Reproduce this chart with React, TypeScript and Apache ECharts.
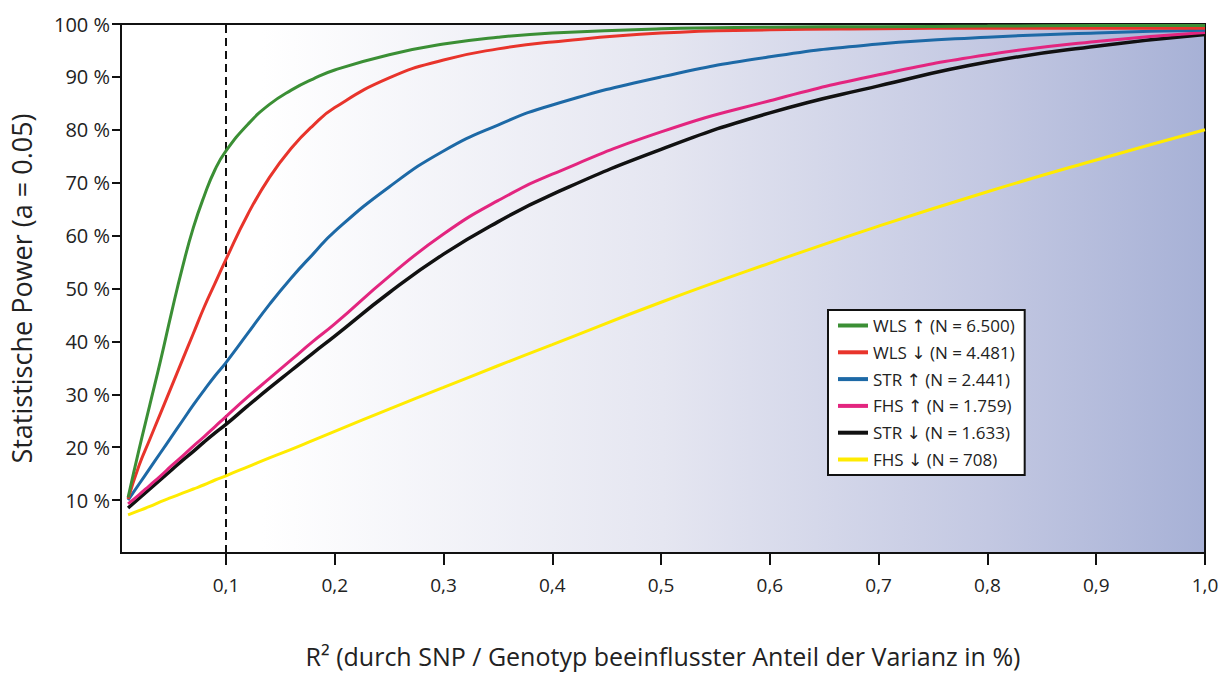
import React, { useEffect, useRef } from "react";
import * as echarts from "echarts";

const xValues = [0.01, 0.02, 0.03, 0.04, 0.05, 0.06, 0.07, 0.08, 0.09, 0.1, 0.12, 0.14, 0.16, 0.18, 0.2, 0.25, 0.3, 0.35, 0.4, 0.5, 0.6, 0.7, 0.8, 0.9, 1.0];
const wlsUp = [10.5, 19.5, 28, 36.5, 45.5, 54, 61.5, 67.5, 72.5, 76, 81, 84.8, 87.5, 89.6, 91.3, 94.2, 96.2, 97.5, 98.3, 99.1, 99.4, 99.5, 99.6, 99.7, 99.7];
const wlsDown = [10.2, 16.5, 21.5, 26.5, 31.5, 36.5, 41.5, 46.5, 51, 55.5, 64, 71, 76.5, 80.8, 84.2, 89.8, 93.2, 95.3, 96.6, 98.3, 98.9, 99.1, 99.2, 99.2, 99.2];
const strUp = [10, 13, 16, 19, 22, 25, 28, 30.8, 33.5, 36, 41.5, 47, 52, 56.5, 60.8, 69.2, 76, 80.9, 84.7, 90, 93.8, 96.2, 97.5, 98.3, 98.8];
const fhsUp = [9.3, 11, 12.8, 14.6, 16.5, 18.3, 20.2, 22, 23.9, 25.8, 29.5, 33, 36.5, 40, 43.3, 52.3, 60.3, 66.6, 71.6, 79.6, 85.5, 90.4, 94.2, 96.7, 98.4];
const strDown = [8.5, 10.3, 12.1, 13.9, 15.7, 17.5, 19.2, 21, 22.7, 24.3, 27.8, 31.2, 34.5, 37.8, 41, 49.2, 56.5, 62.6, 67.8, 76.3, 83.2, 88.3, 92.8, 95.8, 98];
const fhsDown = [7.2, 8, 8.8, 9.7, 10.5, 11.3, 12.1, 12.9, 13.8, 14.6, 16.3, 18, 19.6, 21.3, 23, 27.2, 31.3, 35.4, 39.4, 47.4, 54.8, 61.8, 68.3, 74.3, 80];

const seriesNames = [
  "WLS ↑ (N = 6.500)",
  "WLS ↓ (N = 4.481)",
  "STR ↑ (N = 2.441)",
  "FHS ↑ (N = 1.759)",
  "STR ↓ (N = 1.633)",
  "FHS ↓ (N = 708)",
];
const seriesColors = ["#3b8f35", "#e8342b", "#1d69a6", "#e3257f", "#111111", "#ffeb00"];
const seriesValues = [wlsUp, wlsDown, strUp, fhsUp, strDown, fhsDown];

const xTicks = [0.1, 0.2, 0.3, 0.4, 0.5, 0.6, 0.7, 0.8, 0.9, 1.0];
const yTicks = [10, 20, 30, 40, 50, 60, 70, 80, 90, 100];
const markerX = 0.1;

const FONT = "'Open Sans', 'DejaVu Sans', sans-serif";

export default function App() {
  const ref = useRef<HTMLDivElement>(null);
  useEffect(() => {
    if (!ref.current) return;
    const chart = echarts.init(ref.current, null, { renderer: "svg" });
    const series: any[] = seriesValues.map((vals, i) => ({
      name: seriesNames[i],
      type: "line",
      smooth: 0.5,
      showSymbol: false,
      symbol: "none",
      z: 10 - i,
      data: xValues.map((x, j) => [x, vals[j]]),
      lineStyle: { color: seriesColors[i], width: i === 4 ? 3.5 : 3 },
      itemStyle: { color: seriesColors[i] },
    }));
    series[0].markLine = {
      silent: true,
      symbol: "none",
      label: { show: false },
      lineStyle: { color: "#111", type: [8, 5], width: 2 },
      data: [{ xAxis: markerX }],
      z: 1,
    };
    chart.setOption({
      animation: false,
      textStyle: { fontFamily: FONT },
      grid: {
        left: 121,
        right: 21,
        top: 24,
        bottom: 103,
        show: true,
        borderColor: "#111",
        borderWidth: 2,
        backgroundColor: new echarts.graphic.LinearGradient(0, 0, 1, 0, [
          { offset: 0, color: "#ffffff" },
          { offset: 0.13, color: "#ffffff" },
          { offset: 0.5, color: "#e5e6f1" },
          { offset: 0.8, color: "#c3c8e2" },
          { offset: 1, color: "#a7b1d6" },
        ]),
      },
      legend: {
        orient: "vertical",
        left: 828,
        top: 310,
        backgroundColor: "#ffffff",
        borderColor: "#111",
        borderWidth: 2,
        borderRadius: 0,
        padding: [7, 10, 7, 10],
        itemGap: 9.8,
        itemWidth: 30,
        itemHeight: 4,
        icon: "rect",
        textStyle: { fontSize: 17, color: "#222", fontFamily: FONT },
        data: seriesNames,
      },
      xAxis: {
        type: "value",
        min: 0.0035,
        max: 1.0,
        name: "R² (durch SNP / Genotyp beeinflusster Anteil der Varianz in %)",
        nameLocation: "middle",
        nameGap: 90,
        nameTextStyle: { fontSize: 25, color: "#222", fontFamily: FONT },
        axisLine: { show: true, lineStyle: { color: "#111", width: 2 } },
        axisTick: { show: true, length: 12, customValues: xTicks, lineStyle: { color: "#111", width: 2 } },
        axisLabel: {
          customValues: xTicks,
          fontSize: 19,
          color: "#222",
          margin: 22,
          formatter: (v: number) => v.toFixed(1).replace(".", ","),
        },
        splitLine: { show: false },
      },
      yAxis: {
        type: "value",
        min: 0,
        max: 100,
        name: "Statistische Power (a = 0.05)",
        nameLocation: "middle",
        nameGap: 86,
        nameTextStyle: { fontSize: 27, color: "#222", fontFamily: FONT },
        axisLine: { show: true, lineStyle: { color: "#111", width: 2 } },
        axisTick: { show: true, length: 9, customValues: yTicks, lineStyle: { color: "#111", width: 2 } },
        axisLabel: {
          customValues: yTicks,
          fontSize: 20,
          color: "#222",
          margin: 11,
          formatter: (v: number) => `${v} %`,
        },
        splitLine: { show: false },
      },
      series,
    });
    return () => chart.dispose();
  }, []);
  return (
    <div
      ref={ref}
      style={{ position: "absolute", left: 0, top: 0, width: 1226, height: 673 }}
    />
  );
}
